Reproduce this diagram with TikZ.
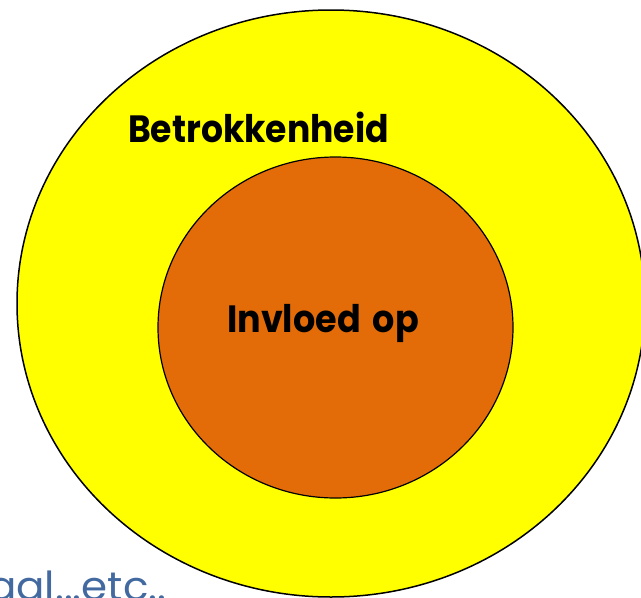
\documentclass[tikz,border=0pt]{standalone}
\usepackage{fontspec}
\setmainfont{Poppins}
\usetikzlibrary{shapes.geometric}
\definecolor{outerfill}{RGB}{255,255,0}
\definecolor{innerfill}{RGB}{227,108,9}
\definecolor{notecol}{RGB}{66,106,160}
\tikzset{
  ringshape/.style={ellipse, draw=black, line width=1.5pt, inner sep=0pt},
  bigtitle/.style={font=\bfseries\fontsize{38}{40}\selectfont, inner sep=0pt, text=black},
}
\begin{document}
\begin{tikzpicture}[x=1pt,y=-1pt]
\useasboundingbox (0,0) rectangle (641,598);
\clip (0,0) rectangle (641,598);
\fill[white] (0,0) rectangle (641,598);
\node[ringshape, fill=outerfill, minimum width=628pt, minimum height=587pt] (outer) at (331,303.5) {};
\node[ringshape, line width=1.2pt, fill=innerfill, minimum width=355pt, minimum height=341pt] (inner) at (335.5,327.5) {};
\node[bigtitle, anchor=base west] (betr) at (128,142) {\scalebox{0.91}[1]{Betrokkenheid}};
\node[bigtitle, anchor=base west] (invl) at (227,332) {\scalebox{0.92}[1]{Invloed\hspace{5pt} op}};
\node[font=\fontsize{40}{42}\selectfont, text=notecol, inner sep=0pt, anchor=base west] (note) at (-12,600) {\scalebox{1.05}[1]{aal...etc..}};
\end{tikzpicture}
\end{document}
